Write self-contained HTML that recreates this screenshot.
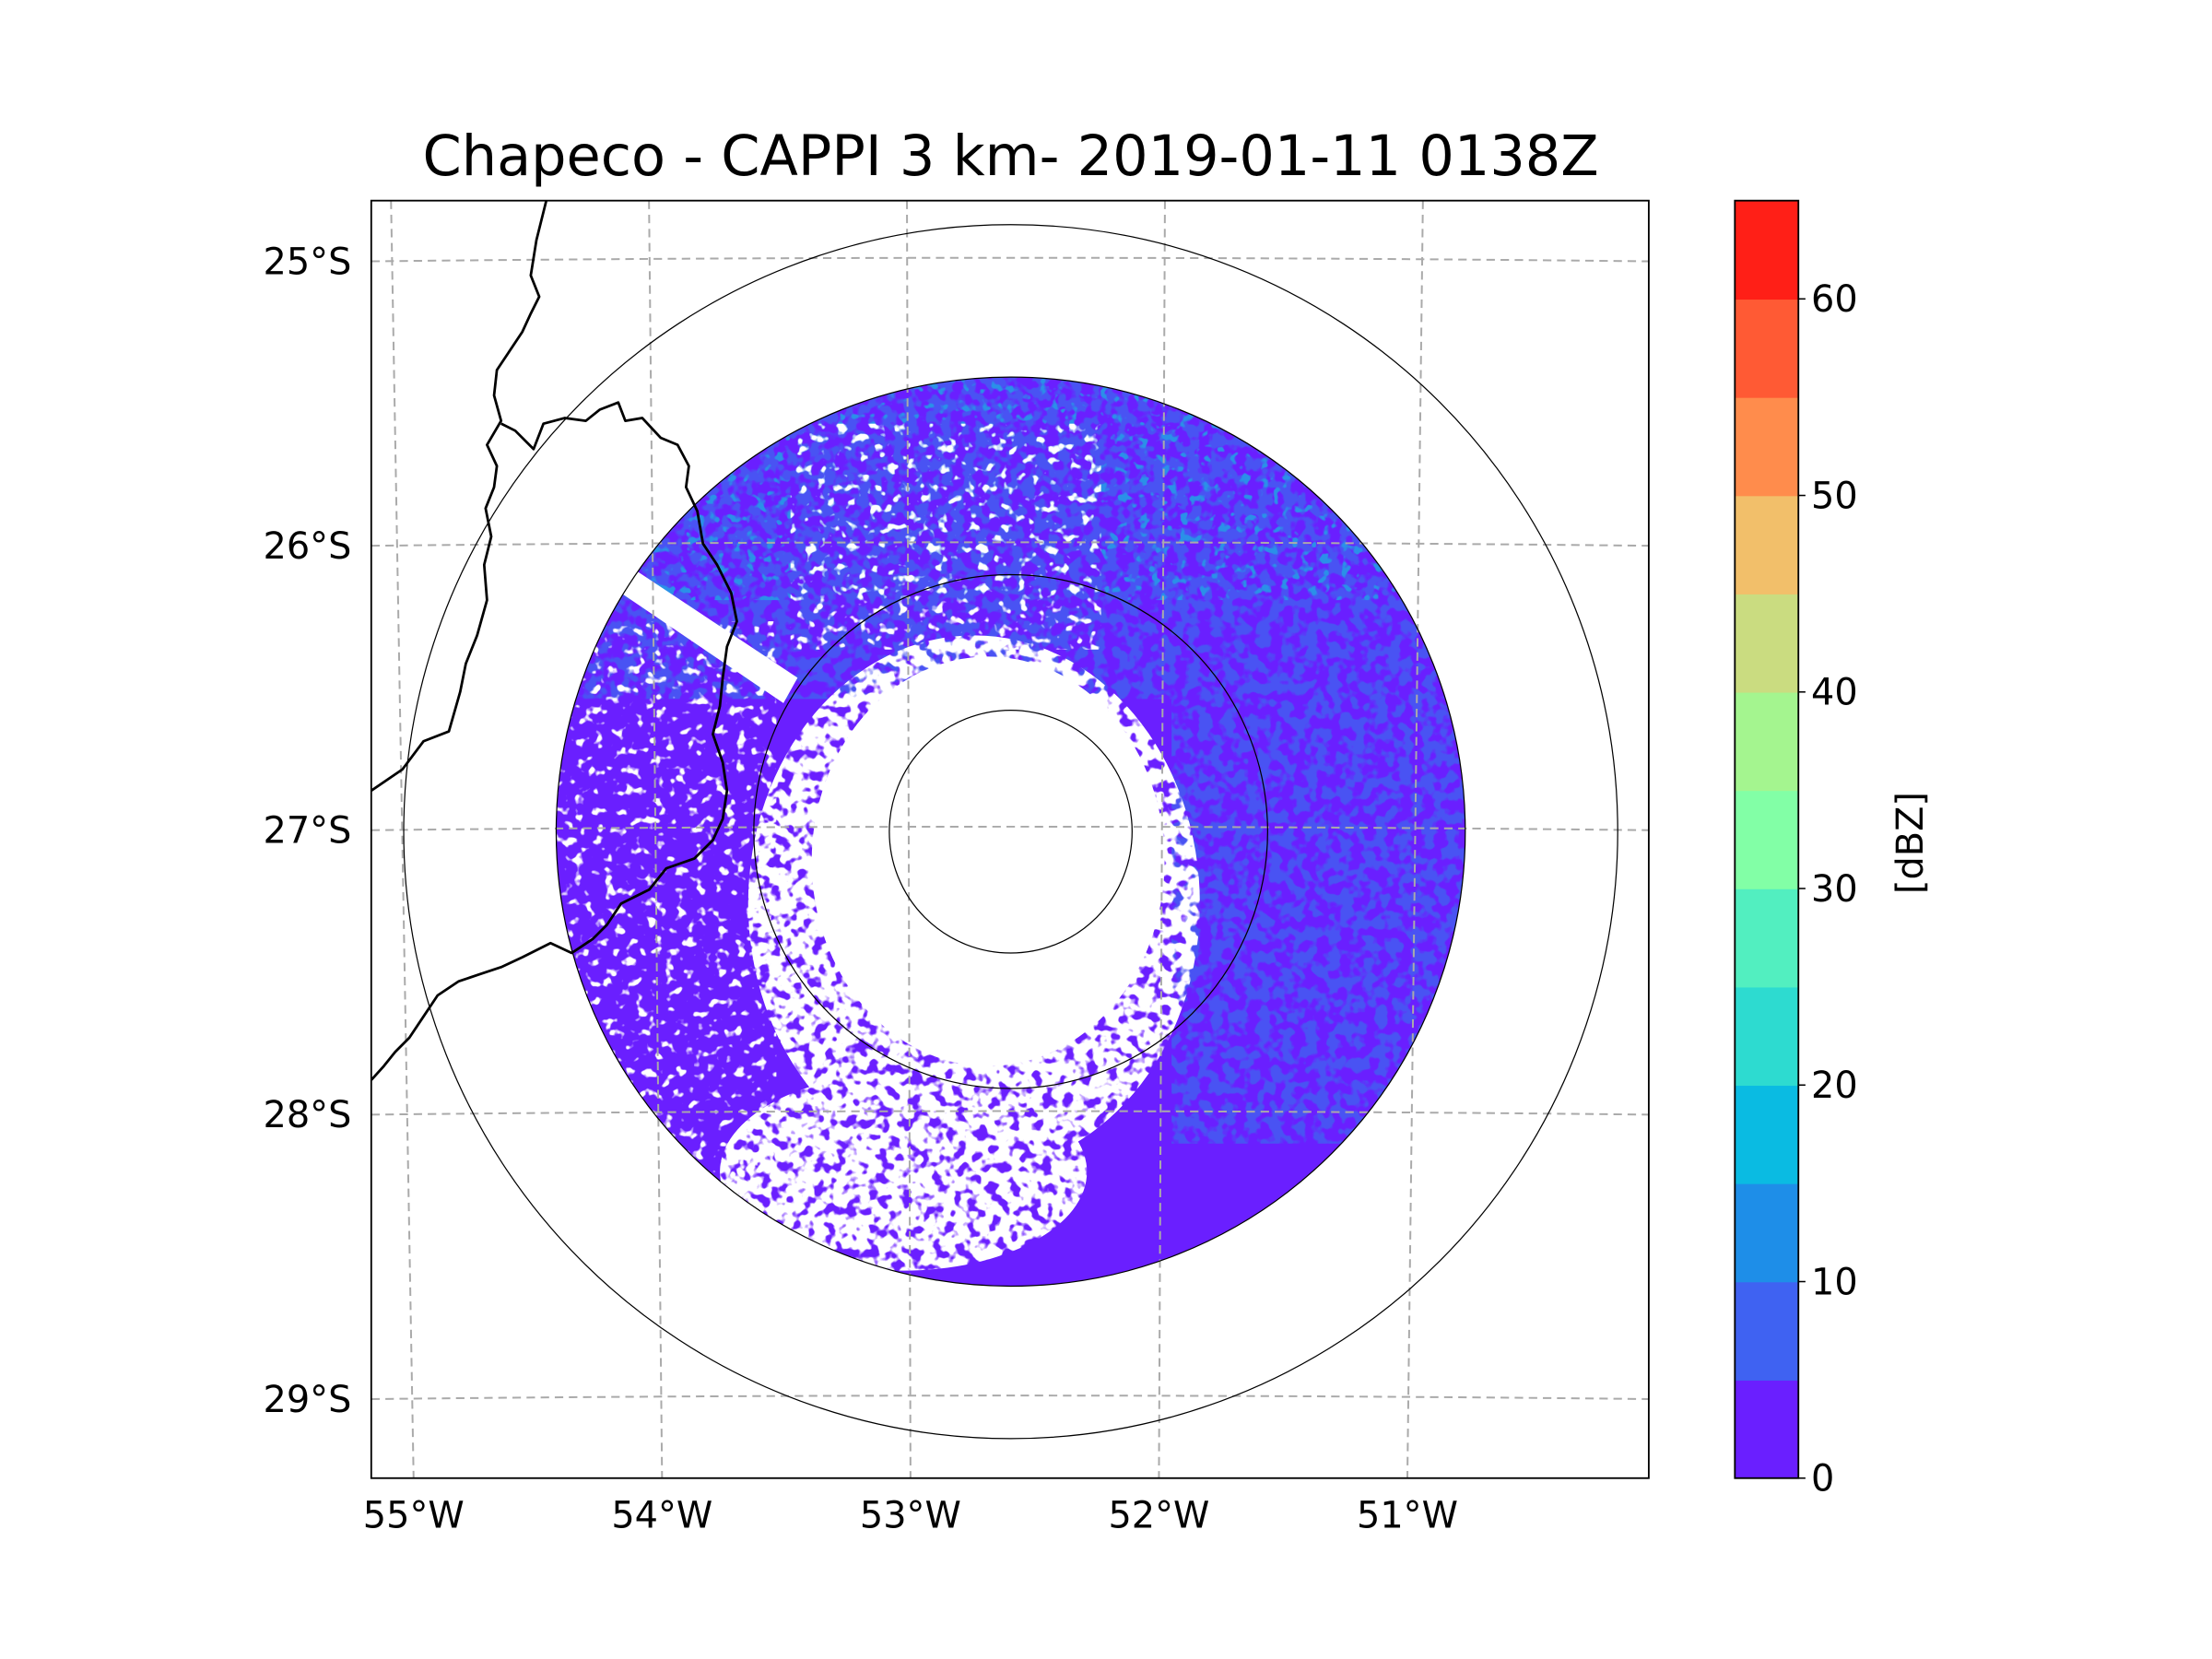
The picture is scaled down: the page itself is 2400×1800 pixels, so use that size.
<!DOCTYPE html>
<html><head><meta charset="utf-8"><style>
html,body{margin:0;padding:0;background:#fff;}
svg{display:block;font-family:"DejaVu Sans","Liberation Sans",sans-serif;}
</style></head><body>
<svg id="fig" width="2400" height="1800" viewBox="0 0 1567 1175" xmlns="http://www.w3.org/2000/svg">
<defs>
<clipPath id="axclip"><rect x="263" y="142" width="905" height="905"/></clipPath>
<clipPath id="radclip"><circle cx="716" cy="589" r="322"/></clipPath>
<filter id="speckA" x="0" y="0" width="100%" height="100%" filterUnits="userSpaceOnUse">
<feTurbulence type="fractalNoise" baseFrequency="0.12" numOctaves="2" seed="3" result="n"/>
<feColorMatrix in="n" type="matrix" values="0 0 0 0 0  0 0 0 0 0  0 0 0 0 0  9 0 0 0 -4.0" result="m"/>
<feComposite in="SourceGraphic" in2="m" operator="in"/>
</filter>
<filter id="speckB" x="0" y="0" width="100%" height="100%" filterUnits="userSpaceOnUse">
<feTurbulence type="fractalNoise" baseFrequency="0.13" numOctaves="2" seed="7" result="n"/>
<feColorMatrix in="n" type="matrix" values="0 0 0 0 0  0 0 0 0 0  0 0 0 0 0  9 0 0 0 -3.4" result="m"/>
<feComposite in="SourceGraphic" in2="m" operator="in"/>
</filter>
<filter id="speckC" x="0" y="0" width="100%" height="100%" filterUnits="userSpaceOnUse">
<feTurbulence type="fractalNoise" baseFrequency="0.14" numOctaves="2" seed="11" result="n"/>
<feColorMatrix in="n" type="matrix" values="0 0 0 0 0  0 0 0 0 0  0 0 0 0 0  9 0 0 0 -5.4" result="m"/>
<feComposite in="SourceGraphic" in2="m" operator="in"/>
</filter>
<filter id="blur"><feGaussianBlur stdDeviation="25"/></filter>
</defs>
<text x="716" y="124" font-size="39.5" text-anchor="middle">Chapeco - CAPPI 3 km- 2019-01-11 0138Z</text>
<g id="map" clip-path="url(#axclip)">
 <g clip-path="url(#radclip)">
  <circle cx="716" cy="589" r="322" fill="#6a1fff"/>
  <g filter="url(#speckA)">
   <path d="M390 265 H1050 V810 H830 V495 H390 Z" fill="#4a52f3"/>
  </g>
  <g filter="url(#speckC)"><rect x="390" y="265" width="660" height="160" fill="#2a90e8"/></g>
  <g filter="url(#speckC)" fill="#fff"><rect x="390" y="440" width="160" height="400"/></g>
  <g filter="url(#speckB)" fill="#fff">
   <ellipse cx="690" cy="640" rx="160" ry="190"/>
   <ellipse cx="640" cy="830" rx="130" ry="70"/>
  </g>
  <g fill="#fff">
   <ellipse cx="700" cy="610" rx="125" ry="145"/>
   <path d="M440 420 L452 405 L565 480 L555 498 Z"/>
  </g>
  <g filter="url(#speckC)" fill="#fff"><rect x="560" y="300" width="220" height="160"/></g>
 </g>
 <g id="grid" stroke="#aaa" stroke-width="1.3" stroke-dasharray="6,4" fill="none"></g>
 <g fill="none" stroke="#000" stroke-width="0.8">
  <circle cx="716" cy="589" r="430"/>
  <circle cx="716" cy="589" r="322"/>
  <circle cx="716" cy="589" r="182"/>
  <circle cx="716" cy="589" r="86"/>
 </g>
 <g fill="none" stroke="#000" stroke-width="1.8" stroke-linejoin="round">
  <polyline points="387,142 380,170 376,195 382,210 376,222 370,235 360,250 352,262 350,280 355,298 345,315 352,330 350,345 344,360 348,380 343,400 345,425 338,450 330,470 326,490 318,518 300,525 285,545 263,560"/>
  <polyline points="355,300 365,305 378,318 385,300 400,296 415,298 425,290 438,285 443,298 455,296 468,310 480,315 488,330 486,345 494,362 498,385 508,400 518,420 522,440 515,458 512,480 510,500 505,520 512,540 515,560 512,580 505,595 492,608 472,615 460,630 440,640 430,655 420,665 405,675 390,668 370,678 355,685 340,690 325,695 310,705 300,720 290,735 280,745 272,755 263,765"/>
 </g>
</g>
<rect x="263" y="142" width="905" height="905" fill="none" stroke="#000" stroke-width="1.2"/>
<g id="ticks" font-size="26"></g>
<g id="cbar"></g>
<text font-size="26" text-anchor="middle" transform="translate(1362,597) rotate(-90)">[dBZ]</text>
</svg>
<script>
const lonTicks = [-55, -54, -53, -52, -51];
const lonLabels = ["55°W", "54°W", "53°W", "52°W", "51°W"];
const latTicks = [-25, -26, -27, -28, -29];
const latLabels = ["25°S", "26°S", "27°S", "28°S", "29°S"];
const cbarLevels = [0,5,10,15,20,25,30,35,40,45,50,55,60,65];
const cbarColors = ["#6a1fff","#3f62f2","#1e8ee8","#0abbe2","#2ddbd0","#52efc0","#82ffa6","#a4f58f","#cadc80","#f2bf6a","#ff8c4c","#ff5a34","#ff1f17"];
const cbarTicks = [0,10,20,30,40,50,60];

const NS = "http://www.w3.org/2000/svg";
function mk(tag, attrs, parent){const e=document.createElementNS(NS,tag);for(const k in attrs)e.setAttribute(k,attrs[k]);parent.appendChild(e);return e;}
const xTop = lon => 277 + (lon + 55) * 182.75;
const xBot = lon => 293 + (lon + 55) * 176;
const yLat = lat => 185 + (-25 - lat) * 201.5;
const grid = document.getElementById('grid');
const ticks = document.getElementById('ticks');
lonTicks.forEach((lon,i)=>{
  const l = mk('line',{x1:xTop(lon),y1:142,x2:xBot(lon),y2:1047},grid);
  
  
  const t = mk('text',{x:xBot(lon),y:1082,'text-anchor':'middle'},ticks);
  t.textContent = lonLabels[i];
  
  
});
latTicks.forEach((lat,i)=>{
  const y=yLat(lat);
  const p = mk('path',{d:`M263 ${y} Q716 ${y-5} 1168 ${y}`},grid);
  
  
  const t = mk('text',{x:249,y:y+9,'text-anchor':'end'},ticks);
  t.textContent = latLabels[i];
  
  
});
const cb = document.getElementById('cbar');
const cx0=1229, cw=45, cy0=142, cy1=1047;
const vmin=cbarLevels[0], vmax=cbarLevels[cbarLevels.length-1];
const yv = v => cy1 - (v - vmin)/(vmax - vmin)*(cy1 - cy0);
cbarColors.forEach((c,i)=>{
  const r = mk('rect',{x:cx0,y:yv(cbarLevels[i+1]),width:cw,height:yv(cbarLevels[i])-yv(cbarLevels[i+1])+0.5,fill:c},cb);
  
  
});
mk('rect',{x:cx0,y:cy0,width:cw,height:cy1-cy0,fill:'none',stroke:'#000','stroke-width':1.2},cb);
cbarTicks.forEach(v=>{
  mk('line',{x1:cx0+cw,x2:cx0+cw+5,y1:yv(v),y2:yv(v),stroke:'#000','stroke-width':1},cb);
  const t = mk('text',{x:cx0+cw+9,y:yv(v)+9,'font-size':26},cb);
  t.textContent = String(v);
  
  
});
</script>
</body></html>
